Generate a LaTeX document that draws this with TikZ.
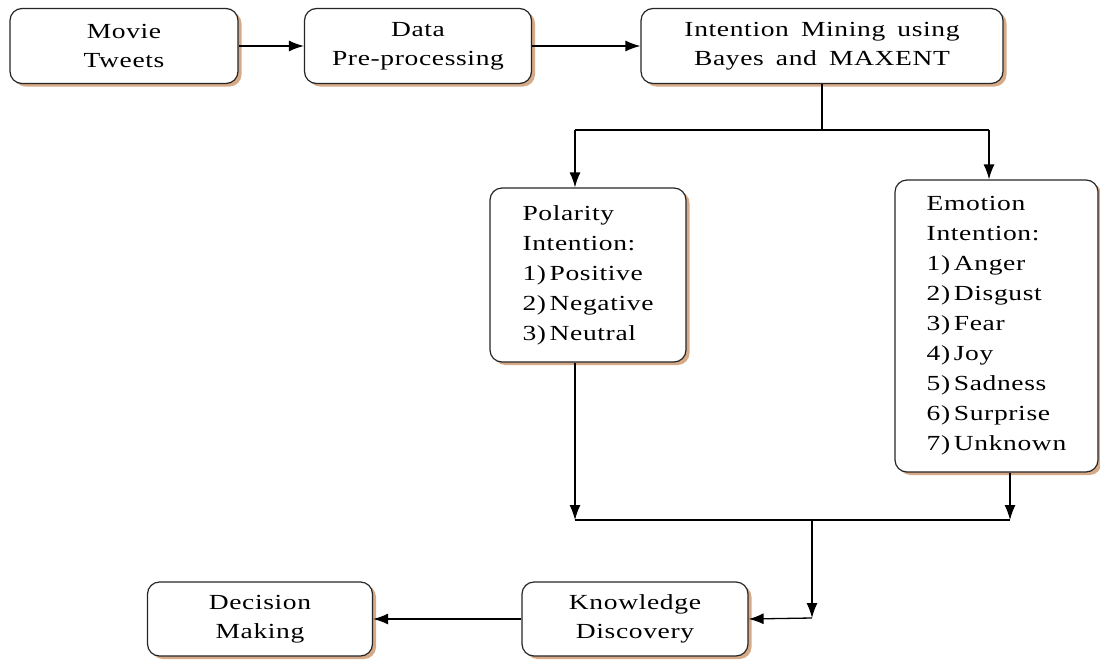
\documentclass[tikz,border=0pt]{standalone}
\usepackage{fontspec}
\setmainfont{Liberation Serif}[LetterSpace=3, FakeStretch=1.28, WordSpace=1.6]
\usetikzlibrary{arrows.meta,shadows}

\definecolor{shadowtan}{RGB}{214,170,135}
\tikzset{
	box/.style={draw=black!85, line width=1.2pt, rounded corners=12pt, fill=white,
		align=center, inner sep=0pt, font=\fontsize{21.5}{29}\selectfont,
		drop shadow={shadow xshift=3.5pt, shadow yshift=-3pt, fill=shadowtan, opacity=1}},
	listbox/.style={box, align=left, font=\fontsize{21.5}{30}\selectfont},
	flow/.style={line width=1.3pt, -{Latex[length=15pt,width=11pt]}},
	link/.style={line width=1.3pt}
}

\begin{document}
\begin{tikzpicture}[x=1pt,y=-1pt]
	\useasboundingbox (0,0) rectangle (1100,659);
	% top row
	\node[box, minimum width=228pt, minimum height=75pt] (movie) at (124,46) {Movie\\Tweets};
	\node[box, minimum width=227pt, minimum height=75pt] (prep) at (418,46) {Data\\Pre-processing};
	\node[box, minimum width=362pt, minimum height=75pt] (mining) at (822,46) {Intention Mining using\\Bayes and MAXENT};
	% intentions
	\node[listbox, minimum width=196pt, minimum height=174pt] (polarity) at (588,275)
		{Polarity\\Intention:\\1)\,Positive\\2)\,Negative\\3)\,Neutral};
	\node[listbox, minimum width=203pt, minimum height=292pt] (emotion) at (996.5,326)
		{Emotion\\Intention:\\1)\,Anger\\2)\,Disgust\\3)\,Fear\\4)\,Joy\\5)\,Sadness\\6)\,Surprise\\7)\,Unknown};
	% bottom row
	\node[box, minimum width=226pt, minimum height=74pt] (knowledge) at (635,619) {Knowledge\\Discovery};
	\node[box, minimum width=225pt, minimum height=74pt] (decision) at (260,619) {Decision\\Making};

	\coordinate (splitL) at (575,130);
	\coordinate (splitR) at (989,130);
	\coordinate (mergeL) at (575,520);
	\coordinate (mergeR) at (1010,520);
	\coordinate (merge) at (812,520);
	\coordinate (drop) at (812,618);

	\draw[flow] (movie) -- (prep);
	\draw[flow] (prep) -- (mining);
	\draw[link] (mining.south) -- (mining.south |- splitL);
	\draw[link] (splitL) -- (splitR);
	\draw[flow] (splitL) -- (polarity.north -| splitL);
	\draw[flow] (splitR) -- (emotion.north -| splitR);
	\draw[flow] (polarity.south -| mergeL) -- (mergeL);
	\draw[flow] (emotion.south -| mergeR) -- (mergeR);
	\draw[link] (mergeL) -- (mergeR);
	\draw[flow] (merge) -- (drop);
	\draw[flow] (drop) -- (knowledge.east);
	\draw[flow] (knowledge) -- (decision);
\end{tikzpicture}
\end{document}
